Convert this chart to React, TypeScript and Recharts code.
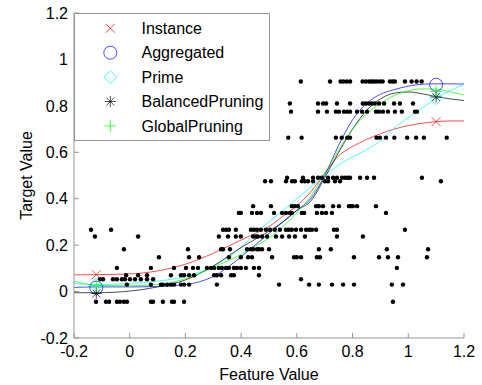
import { ComposedChart, Line, Scatter, XAxis, YAxis, Legend } from 'recharts'

const FONT = '"Liberation Sans", Arial, sans-serif'
const AXIS_GRAY = '#959595'

const ticks = [-0.2, 0, 0.2, 0.4, 0.6, 0.8, 1, 1.2]

// fitted curves, sampled along the feature axis
const curveX = [-0.2, -0.12, 0, 0.1, 0.2, 0.3, 0.4, 0.45, 0.5, 0.55, 0.6, 0.65, 0.7, 0.75, 0.8, 0.85, 0.9, 0.95, 1.0, 1.05, 1.1, 1.15, 1.2]
const instanceY = [0.072, 0.073, 0.076, 0.089, 0.118, 0.165, 0.222, 0.25, 0.28, 0.325, 0.37, 0.43, 0.51, 0.585, 0.625, 0.655, 0.68, 0.7, 0.715, 0.725, 0.732, 0.735, 0.735]
const aggregatedY = [0.018, 0.02, 0.02, 0.022, 0.03, 0.065, 0.15, 0.2, 0.25, 0.3, 0.35, 0.4, 0.5, 0.63, 0.74, 0.81, 0.85, 0.87, 0.885, 0.893, 0.895, 0.895, 0.894]
const primeY = [0.035, 0.03, 0.035, 0.045, 0.065, 0.11, 0.19, 0.25, 0.3, 0.35, 0.4, 0.45, 0.5, 0.545, 0.58, 0.61, 0.65, 0.705, 0.75, 0.79, 0.833, 0.865, 0.893]
const balancedY = [-0.005, -0.005, 0.002, 0.02, 0.05, 0.11, 0.19, 0.225, 0.26, 0.3, 0.35, 0.39, 0.49, 0.6, 0.7, 0.78, 0.83, 0.855, 0.86, 0.852, 0.84, 0.83, 0.823]
const globalY = [0.045, 0.027, 0.025, 0.03, 0.055, 0.105, 0.16, 0.195, 0.23, 0.28, 0.34, 0.41, 0.51, 0.61, 0.7, 0.765, 0.81, 0.845, 0.865, 0.873, 0.872, 0.86, 0.848]

// end markers
const markX = [-0.12, 1.1]
const instanceMarks = [0.073, 0.732]
const aggregatedMarks = [0.017, 0.891]
const primeMarks = [0.03, 0.833]
const balancedMarks = [-0.008, 0.838]
const globalMarks = [0.025, 0.862]

// observed points, one row per target level
const rowLevels = [0.905, 0.81, 0.775, 0.663, 0.49, 0.475, 0.368, 0.339, 0.266, 0.237, 0.182, 0.148, 0.102, 0.07, 0.053, 0.03, -0.044]
const row090 = [0.614, 0.719, 0.757, 0.767, 0.779, 0.791, 0.836, 0.848, 0.86, 0.869, 0.877, 0.886, 0.898, 0.908, 0.934, 0.944, 0.952, 0.988, 1.012, 1.03, 1.048]
const row081 = [0.575, 0.676, 0.694, 0.705, 0.744, 0.791, 0.837, 0.848, 0.859, 0.869, 0.88, 0.895, 0.913, 0.949, 0.97, 1.017]
const row077 = [0.579, 0.676, 0.708, 0.74, 0.751, 0.769, 0.78, 0.791, 0.816, 0.834, 0.852, 0.884, 0.895, 0.909, 0.927, 0.952, 0.977, 1.024, 1.031]
const row066 = [0.569, 0.617, 0.74, 0.761, 0.781, 0.791, 0.886, 0.898, 0.92, 0.95, 0.996, 1.028, 1.056, 1.138]
const row049 = [0.565, 0.622, 0.658, 0.676, 0.69, 0.712, 0.73, 0.744, 0.762, 0.773, 0.783, 0.791, 0.827, 0.852, 0.877, 1.049]
const row047 = [0.486, 0.507, 0.561, 0.583, 0.593, 0.618, 0.629, 0.64, 0.658, 0.701, 0.712, 0.737, 0.755, 1.117]
const row037 = [0.443, 0.507, 0.582, 0.593, 0.604, 0.669, 0.679, 0.694, 0.73, 0.751, 0.787, 0.794, 0.801, 0.816, 0.884]
const row034 = [0.392, 0.399, 0.439, 0.457, 0.471, 0.518, 0.547, 0.561, 0.575, 0.582, 0.618, 0.626, 0.672, 0.69, 0.705, 0.726, 0.92]
const row027 = [-0.139, -0.067, 0.335, 0.346, 0.356, 0.381, 0.435, 0.446, 0.457, 0.471, 0.489, 0.504, 0.521, 0.539, 0.561, 0.571, 0.582, 0.597, 0.615, 0.633, 0.644, 0.654, 0.669, 0.733, 0.744, 0.988]
const row024 = [-0.125, 0.03, 0.32, 0.353, 0.381, 0.399, 0.443, 0.453, 0.46, 0.475, 0.493, 0.525, 0.547, 0.572, 0.593, 0.629, 0.744, 0.837]
const row018 = [-0.021, 0.209, 0.328, 0.335, 0.36, 0.421, 0.435, 0.443, 0.457, 0.464, 0.475, 0.5, 0.679, 0.722, 0.923, 1.071]
const row015 = [0.105, 0.213, 0.249, 0.356, 0.399, 0.425, 0.439, 0.511, 0.59, 0.6, 0.615, 0.672, 0.683, 0.805, 0.895, 0.927, 0.963, 1.067]
const row010 = [-0.046, 0.076, 0.159, 0.202, 0.227, 0.245, 0.277, 0.292, 0.303, 0.32, 0.331, 0.346, 0.356, 0.374, 0.385, 0.399, 0.417, 0.446, 0.464, 0.959]
const row007 = [-0.013, 0.03, 0.062, 0.148, 0.184, 0.195, 0.213, 0.231, 0.303, 0.313, 0.328, 0.364, 0.374, 0.464]
const row005 = [-0.107, -0.096, -0.06, -0.046, -0.028, -0.017, 0.001, 0.019, 0.04, 0.062, 0.084, 0.615]
const row003 = [-0.01, 0.076, 0.112, 0.119, 0.134, 0.148, 0.159, 0.184, 0.195, 0.213, 0.313, 0.536, 0.644, 0.679, 0.726, 0.766, 0.805, 0.941, 0.981]
const rowNeg = [-0.121, -0.085, -0.074, -0.046, -0.035, -0.021, -0.01, 0.076, 0.084, 0.119, 0.152, 0.159, 0.195, 0.945]
const rowXs = [row090, row081, row077, row066, row049, row047, row037, row034, row027, row024, row018, row015, row010, row007, row005, row003, rowNeg]

const dots = rowLevels.flatMap((y, i) => rowXs[i].map(x => ({ x, y })))

type Kind = 'x' | 'o' | 'd' | '*' | '+'

const SERIES: { name: string; color: string; kind: Kind; ys: number[]; marks: number[] }[] = [
  { name: 'Instance', color: '#ff0000', kind: 'x', ys: instanceY, marks: instanceMarks },
  { name: 'Aggregated', color: '#0000ff', kind: 'o', ys: aggregatedY, marks: aggregatedMarks },
  { name: 'Prime', color: '#00ffff', kind: 'd', ys: primeY, marks: primeMarks },
  { name: 'BalancedPruning', color: '#000000', kind: '*', ys: balancedY, marks: balancedMarks },
  { name: 'GlobalPruning', color: '#00ff00', kind: '+', ys: globalY, marks: globalMarks },
]

const THIN = 0.7

function Marker({ kind, cx, cy, color }: { kind: Kind; cx: number; cy: number; color: string }) {
  const s = { stroke: color, strokeWidth: THIN, fill: 'none' }
  if (kind === 'x') {
    const h = 4.5
    return (
      <g {...s}>
        <line x1={cx - h} y1={cy - h} x2={cx + h} y2={cy + h} />
        <line x1={cx - h} y1={cy + h} x2={cx + h} y2={cy - h} />
      </g>
    )
  }
  if (kind === 'o') return <circle cx={cx} cy={cy} r={6.5} {...s} />
  if (kind === 'd') {
    const h = 6.5
    return <path d={`M${cx},${cy - h}L${cx + h},${cy}L${cx},${cy + h}L${cx - h},${cy}Z`} {...s} />
  }
  if (kind === '*') {
    const h = 5.5
    const d = 4
    return (
      <g {...s}>
        <line x1={cx} y1={cy - h} x2={cx} y2={cy + h} />
        <line x1={cx - h} y1={cy} x2={cx + h} y2={cy} />
        <line x1={cx - d} y1={cy - d} x2={cx + d} y2={cy + d} />
        <line x1={cx - d} y1={cy + d} x2={cx + d} y2={cy - d} />
      </g>
    )
  }
  const h = 6
  return (
    <g {...s}>
      <line x1={cx} y1={cy - h} x2={cx} y2={cy + h} />
      <line x1={cx - h} y1={cy} x2={cx + h} y2={cy} />
    </g>
  )
}

function LegendBox() {
  return (
    <svg width={196} height={128} style={{ display: 'block', background: '#fff', border: `1px solid ${AXIS_GRAY}`, boxSizing: 'border-box' }}>
      {SERIES.map((s, i) => {
        const cy = 14.3 + i * 24.4
        return (
          <g key={s.name}>
            <Marker kind={s.kind} cx={35.3} cy={cy} color={s.color} />
            <text x={66.5} y={cy + 5.7} fontSize={16} fontFamily={FONT} fill="#000">{s.name}</text>
          </g>
        )
      })}
    </svg>
  )
}

const fmt = (v: number) => String(Math.round(v * 10) / 10)

export default function App() {
  const tickStyle = { fill: '#000', fontSize: 16, fontFamily: FONT }
  return (
    <div style={{ position: 'absolute', left: 0, top: 0 }}>
      <ComposedChart width={482} height={385} margin={{ top: 13, right: 18, bottom: 0, left: 8 }}>
        <XAxis type="number" dataKey="x" domain={[-0.2, 1.2]} ticks={ticks} interval={0} allowDataOverflow
          tickFormatter={fmt} tickSize={-5} tickMargin={13} stroke={AXIS_GRAY} tick={tickStyle} height={47}
          label={{ value: 'Feature Value', position: 'insideBottom', offset: 5.5, fill: '#000', fontSize: 16, fontFamily: FONT }} />
        <XAxis xAxisId="top" orientation="top" type="number" dataKey="x" domain={[-0.2, 1.2]} ticks={ticks} interval={0}
          allowDataOverflow tick={false} tickSize={-5} stroke={AXIS_GRAY} height={0} />
        <YAxis type="number" dataKey="y" domain={[-0.2, 1.2]} ticks={ticks} interval={0} allowDataOverflow
          tickFormatter={fmt} tickSize={-5} tickMargin={11} stroke={AXIS_GRAY} tick={tickStyle} width={66}
          label={{ value: 'Target Value', angle: -90, position: 'insideLeft', offset: 18, fill: '#000', fontSize: 16, fontFamily: FONT, style: { textAnchor: 'middle' } }} />
        <YAxis yAxisId="right" orientation="right" type="number" dataKey="y" domain={[-0.2, 1.2]} ticks={ticks} interval={0}
          allowDataOverflow tick={false} tickSize={-5} stroke={AXIS_GRAY} width={0} />

        <Scatter data={dots} isAnimationActive={false}
          shape={(p: any) => <circle cx={p.cx} cy={p.cy} r={2.2} fill="#000" />} />

        {SERIES.map(s => (
          <Line key={s.name} data={curveX.map((x, i) => ({ x, y: s.ys[i] }))} dataKey="y" type="monotone"
            stroke={s.color} strokeWidth={THIN} dot={false} activeDot={false} isAnimationActive={false} />
        ))}
        {SERIES.map(s => (
          <Scatter key={s.name + '-m'} data={markX.map((x, i) => ({ x, y: s.marks[i] }))} isAnimationActive={false}
            shape={(p: any) => <Marker kind={s.kind} cx={p.cx} cy={p.cy} color={s.color} />} />
        ))}

        <Legend layout="vertical" align="center" verticalAlign="middle"
          wrapperStyle={{ left: 74, top: 13, width: 196, height: 128 }} content={() => <LegendBox />} />
      </ComposedChart>
    </div>
  )
}
